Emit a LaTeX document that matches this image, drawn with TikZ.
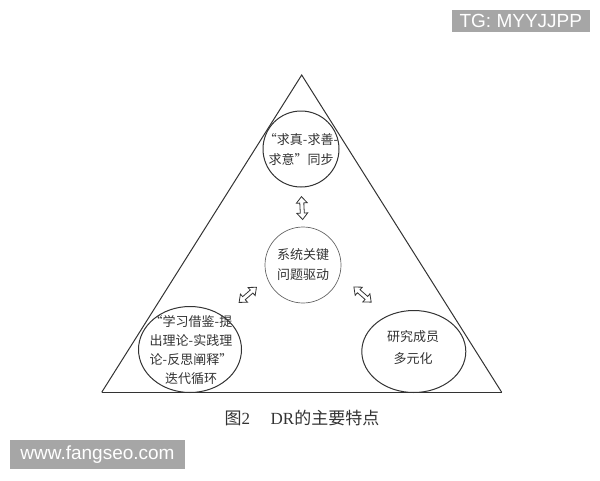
\documentclass[tikz,border=0pt]{standalone}
\usepackage{fontspec}
\setmainfont{Liberation Serif}
\newfontfamily\cjk{Noto Sans CJK SC}
\newfontfamily\wmfont{Liberation Sans}
\usetikzlibrary{shapes.geometric,shapes.arrows}
\begin{document}
\begin{tikzpicture}[x=1pt, y=-1pt,
  ln/.style={draw=black!80, line width=1pt},
  txt/.style={align=center, text=black!80, font=\cjk\fontsize{13}{20}\selectfont},
  dbl/.style={double arrow, draw=black!80, line width=.8pt, sloped, inner sep=1.6pt,
    minimum height=23pt, minimum width=0pt, double arrow head extend=3.4pt, double arrow tip angle=80},
  wm/.style={fill=black!35, text=white, font=\wmfont\fontsize{19}{19}\selectfont, inner sep=0pt}]
\useasboundingbox (0,0) rectangle (600,480);

\draw[ln] (101.7,392.3)--(301.7,75)--(501.7,392.3);
\draw[ln, line width=1.6pt] (101.7,392.3)--(501.7,392.3);

\node[ln, circle, minimum size=76pt] (top) at (301,149) {};
\node[ln, circle, minimum size=76pt, draw=black!60, line width=.7pt] (mid) at (303,265) {};
\node[ln, ellipse, minimum width=103pt, minimum height=86pt] (left) at (190,349.5) {};
\node[ln, ellipse, minimum width=104pt, minimum height=82pt] (right) at (413.8,351.5) {};

\node[txt] (topt) at (301,150) {“求真-求善-\\求意”同步};
\node[txt] (midt) at (303,265) {系统关键\\问题驱动};
\node[txt, font=\cjk\fontsize{13}{19}\selectfont] (leftt) at (191,350) {“学习借鉴-提\\出理论-实践理\\论-反思阐释”\\迭代循环};
\node[txt, font=\cjk\fontsize{13}{22}\selectfont] (rightt) at (413,348) {研究成员\\多元化};

\path (top.south)--(mid.north) node[dbl, pos=.525] (a1) {};
\path (mid.200)--(left.45) node[dbl, pos=.44] (a2) {};
\path (mid.-15)--(right.127) node[dbl, pos=.48] (a3) {};

\node (cap) at (302,418) [text=black!80, font=\fontsize{17}{17}\selectfont]{{\cjk 图}2\hspace{1.2em}DR{\cjk 的主要特点}};

\node[wm, minimum width=138pt, minimum height=21.7pt] (tg) at (520.8,20.8) {TG: MYYJJPP};
\node[wm, minimum width=175pt, minimum height=29pt] (url) at (97.5,454.5) {www.fangseo.com};
\end{tikzpicture}
\end{document}
